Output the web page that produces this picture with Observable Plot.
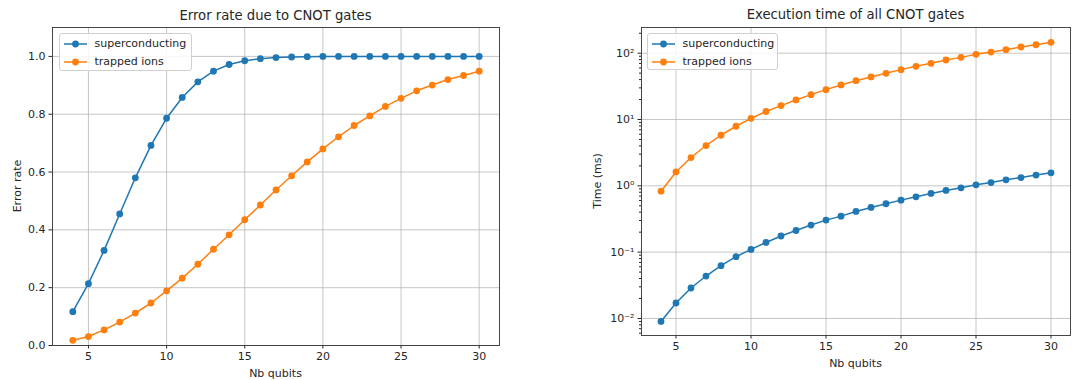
<!DOCTYPE html>
<html><head><meta charset="utf-8">
<script src="https://cdn.jsdelivr.net/npm/d3@7"></script>
<script src="https://cdn.jsdelivr.net/npm/@observablehq/plot@0.6"></script>
<style>
body{margin:0;background:#fff;font-family:"DejaVu Sans",sans-serif;}
#root{position:relative;width:1075px;height:380px;overflow:hidden;background:#fff}
.abs{position:absolute;white-space:nowrap;color:#262626;line-height:1}
.title{font-size:13.2px;transform:translate(-50%,-50%)}
.xlab{font-size:11px;transform:translate(-50%,-50%)}
.ylab{font-size:11px;transform:translate(-50%,-50%) rotate(-90deg)}
.legend{position:absolute;border:1px solid #d0d0d0;border-radius:3px;background:rgba(255,255,255,0.85);box-sizing:border-box;z-index:2}
.legend .row{position:absolute;left:0;height:14px;font-size:11px;color:#262626;white-space:nowrap}
.legend .row svg{position:absolute;left:0;top:0}
.legend .row span{position:absolute;left:35px;top:0;line-height:14px}
.plot{position:absolute;top:0}
</style>
</head><body>
<div id="root"></div>
<script>
// ---- data ----
const qubits = [4,5,6,7,8,9,10,11,12,13,14,15,16,17,18,19,20,21,22,23,24,25,26,27,28,29,30];
const seriesNames = ["superconducting", "trapped ions"];
const seriesColors = ["#1f77b4", "#ff7f0e"];
const errSuper = [0.117,0.214,0.329,0.455,0.580,0.692,0.786,0.858,0.912,0.949,0.972,0.985,0.992,0.996,0.998,0.999,1.0,1.0,1.0,1.0,1.0,1.0,1.0,1.0,1.0,1.0,1.0];
const errIons = [0.018,0.031,0.054,0.081,0.112,0.147,0.189,0.233,0.281,0.333,0.383,0.435,0.486,0.538,0.587,0.635,0.680,0.722,0.761,0.794,0.827,0.855,0.881,0.901,0.920,0.934,0.949];
const timeSuper = [0.0090,0.0171,0.0288,0.0436,0.0625,0.0853,0.110,0.140,0.175,0.212,0.256,0.304,0.349,0.411,0.472,0.536,0.608,0.683,0.767,0.851,0.933,1.035,1.12,1.23,1.33,1.45,1.57];
const timeIons = [0.83,1.62,2.67,4.05,5.79,7.91,10.4,13.2,16.2,19.7,23.7,28.2,33.2,38.5,43.8,49.7,56.5,63.4,70.4,78.9,86.5,96,104,113,124,134,146];
const xTicks = [5,10,15,20,25,30];
const errTicks = [0,0.2,0.4,0.6,0.8,1.0];
const timeTicks = [0.01,0.1,1,10,100];
const titles = ["Error rate due to CNOT gates", "Execution time of all CNOT gates"];
const yLabels = ["Error rate", "Time (ms)"];
const xLabel = "Nb qubits";

const toRows = (a, b) => qubits.flatMap((n, i) => [
  {n, value: a[i], series: seriesNames[0]},
  {n, value: b[i], series: seriesNames[1]}
]);
const errRows = toRows(errSuper, errIons);
const timeRows = toRows(timeSuper, timeIons);

const sup = {"-":"⁻","0":"⁰","1":"¹","2":"²","3":"³","4":"⁴","5":"⁵","6":"⁶","7":"⁷","8":"⁸","9":"⁹"};
const powFmt = d => "10" + String(Math.round(Math.log10(d))).split("").map(c => sup[c]).join("");

const gridOpts = {stroke: "#b0b0b0", strokeOpacity: 0.9, strokeWidth: 0.8};
const style = {fontFamily: "DejaVu Sans", fontSize: "11px", color: "#262626", background: "transparent", overflow: "visible"};
const color = {domain: seriesNames, range: seriesColors};

const root = document.getElementById("root");

// ---- left plot ----
const left = Plot.plot({
  width: 540, height: 380,
  marginLeft: 52, marginRight: 41, marginTop: 27, marginBottom: 35,
  x: {domain: [2.7, 31.3]},
  y: {domain: [0, 1.1]},
  color, style,
  marks: [
    Plot.gridX(xTicks, gridOpts),
    Plot.gridY(errTicks, gridOpts),
    Plot.axisX(xTicks, {tickSize: 3.5, tickPadding: 3.5, label: null}),
    Plot.axisY(errTicks, {tickSize: 3.5, tickPadding: 3.5, label: null, tickFormat: d3.format(".1f")}),
    Plot.line(errRows, {x: "n", y: "value", stroke: "series", z: "series", strokeWidth: 1.5}),
    Plot.dot(errRows, {x: "n", y: "value", fill: "series", r: 3.4}),
    Plot.frame({stroke: "#333", strokeWidth: 0.9})
  ]
});
left.classList.add("plot");
left.style.left = "0px";
root.appendChild(left);

// ---- right plot ----
const logDomain = [0.00553, 244];
const minor = d3.scaleLog().domain(logDomain).ticks().filter(d => !timeTicks.some(t => Math.abs(t - d) / t < 1e-9));
const right = Plot.plot({
  width: 535, height: 380,
  marginLeft: 101, marginRight: 5, marginTop: 27, marginBottom: 45,
  x: {domain: [2.7, 31.3]},
  y: {type: "log", domain: logDomain},
  color, style,
  marks: [
    Plot.gridX(xTicks, gridOpts),
    Plot.gridY(timeTicks, gridOpts),
    Plot.axisX(xTicks, {tickSize: 3.5, tickPadding: 3.5, label: null}),
    Plot.axisY(timeTicks, {tickSize: 3.5, tickPadding: 3.5, label: null, tickFormat: powFmt}),
    Plot.axisY(minor, {tickSize: 2, tickFormat: () => "", label: null}),
    Plot.line(timeRows, {x: "n", y: "value", stroke: "series", z: "series", strokeWidth: 1.5}),
    Plot.dot(timeRows, {x: "n", y: "value", fill: "series", r: 3.4}),
    Plot.frame({stroke: "#333", strokeWidth: 0.9})
  ]
});
right.classList.add("plot");
right.style.left = "540px";
root.appendChild(right);

// ---- text ----
function addText(cls, txt, x, y) {
  const d = document.createElement("div");
  d.className = "abs " + cls;
  d.textContent = txt;
  d.style.left = x + "px";
  d.style.top = y + "px";
  root.appendChild(d);
}
addText("title", titles[0], 275.5, 15.5);
addText("title", titles[1], 855.5, 15);
addText("xlab", xLabel, 275.5, 373);
addText("xlab", xLabel, 855.5, 363);
addText("ylab", yLabels[0], 16.5, 186);
addText("ylab", yLabels[1], 597, 181);

// ---- legends ----
function addLegend(x, y, w, h) {
  const box = document.createElement("div");
  box.className = "legend";
  box.style.left = x + "px"; box.style.top = y + "px";
  box.style.width = w + "px"; box.style.height = h + "px";
  seriesNames.forEach((name, i) => {
    const row = document.createElement("div");
    row.className = "row";
    row.style.top = (3 + i * 18) + "px";
    row.style.width = (w - 2) + "px";
    row.innerHTML = `<svg width="32" height="14"><line x1="4" x2="27" y1="7" y2="7" stroke="${seriesColors[i]}" stroke-width="1.5"/><circle cx="15.5" cy="7" r="3.4" fill="${seriesColors[i]}"/></svg><span>${name}</span>`;
    box.appendChild(row);
  });
  root.appendChild(box);
}
addLegend(58.5, 33, 133, 38);
addLegend(646.5, 32.5, 131, 37);
</script>
</body></html>
